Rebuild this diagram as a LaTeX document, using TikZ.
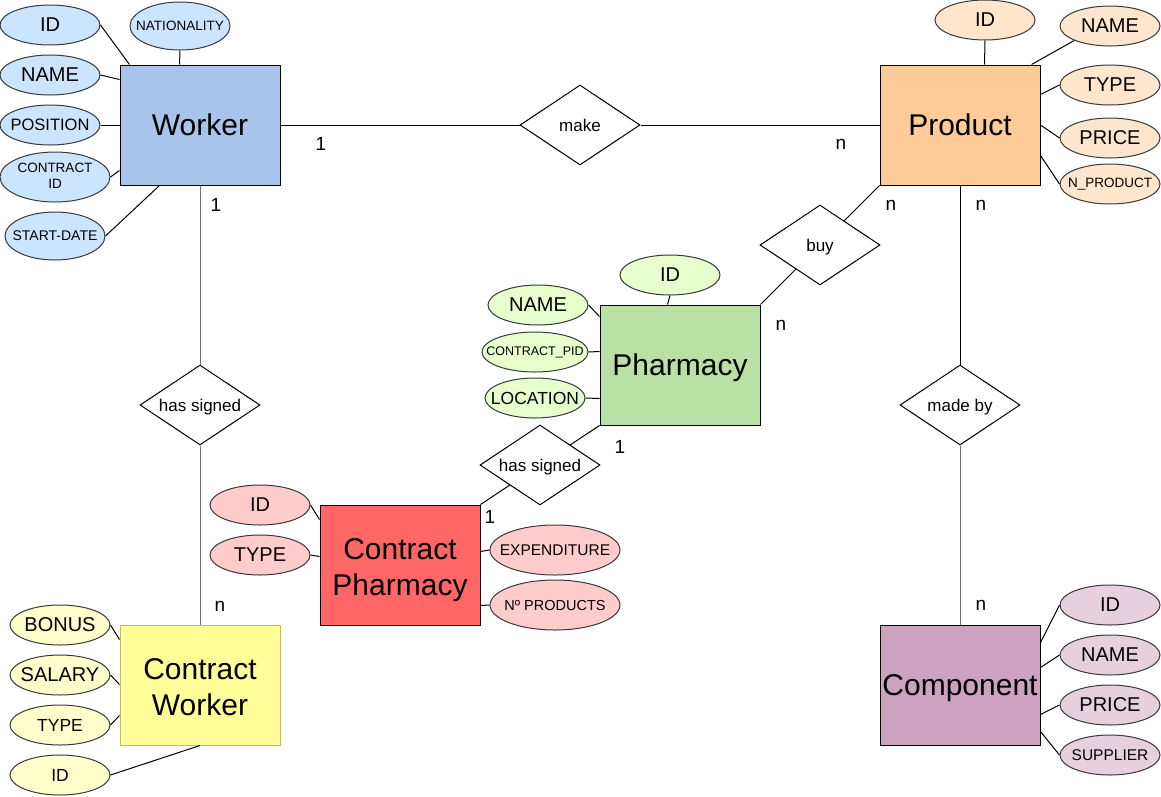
\documentclass[tikz,border=0pt]{standalone}
\usepackage{fontspec}
\setmainfont{Liberation Sans}
\usetikzlibrary{shapes.geometric}
\definecolor{workerFill}{HTML}{A9C4EB}
\definecolor{workerAttr}{HTML}{CCE5FF}
\definecolor{prodFill}{HTML}{FFCC99}
\definecolor{prodAttr}{HTML}{FFE6CC}
\definecolor{pharmFill}{HTML}{B9E0A5}
\definecolor{pharmAttr}{HTML}{E6FFCC}
\definecolor{cpFill}{HTML}{FF6666}
\definecolor{cpAttr}{HTML}{FFCCCC}
\definecolor{cwFill}{HTML}{FFFF99}
\definecolor{cwBorder}{HTML}{D6B656}
\definecolor{cwAttr}{HTML}{FFFFCC}
\definecolor{compFill}{HTML}{CDA2BE}
\definecolor{compAttr}{HTML}{E6D0DE}
\definecolor{attrLine}{HTML}{36393D}
\definecolor{connGray}{HTML}{707070}
\newcommand{\ctr}[1]{\makebox[0pt][c]{#1}}
\begin{document}
\begin{tikzpicture}[x=1pt,y=-1pt,line width=1pt,
  entity/.style={draw=black,minimum width=160pt,minimum height=120pt,inner sep=0pt,align=center,font=\fontsize{30}{36}\selectfont,text height=21.5pt,text depth=0pt},
  entitytwo/.style={draw=black,minimum width=160pt,minimum height=120pt,inner sep=0pt,font=\fontsize{30}{36}\selectfont,text height=52.5pt,text depth=28.5pt},
  attr/.style={ellipse,draw=attrLine,minimum width=100pt,minimum height=40pt,inner sep=0pt,font=\fontsize{20}{24}\selectfont},
  rel/.style={diamond,draw=black,shape aspect=1.5,minimum width=120pt,minimum height=80pt,inner sep=0pt,font=\fontsize{17}{20}\selectfont,text height=12.4pt,text depth=0pt},
  card/.style={inner sep=0pt,font=\fontsize{19}{22}\selectfont},
  conn/.style={draw=black},
  gconn/.style={draw=connGray},
  fs/.style={font=\fontsize{#1}{#1}\selectfont}]
\useasboundingbox (0,0) rectangle (1161,796);

% ---------- Worker ----------
\node[entity,fill=workerFill] (worker) at (200,125) {Worker};
\node[attr,fill=workerAttr] (wid) at (50,25) {\ctr{ID}};
\node[attr,fill=workerAttr,minimum height=48pt,fs=13.5] (wnat) at (180,26) {\ctr{NATIONALITY}};
\node[attr,fill=workerAttr] (wname) at (50,75) {\ctr{NAME}};
\node[attr,fill=workerAttr,fs=16.5] (wpos) at (50,125) {\ctr{POSITION}};
\node[attr,fill=workerAttr,minimum width=110pt,minimum height=50pt,font=\fontsize{13.5}{16}\selectfont] (wcid) at (55,177) {\ctr{\begin{tabular}{@{}c@{}}CONTRACT\\ID\end{tabular}}};
\node[attr,fill=workerAttr,minimum height=48pt,fs=14] (wsd) at (55,236) {\ctr{START-DATE}};

% ---------- Product ----------
\node[entity,fill=prodFill] (product) at (960,125) {Product};
\node[attr,fill=prodAttr] (pid) at (985,20) {\ctr{ID}};
\node[attr,fill=prodAttr] (pname) at (1110,26) {\ctr{NAME}};
\node[attr,fill=prodAttr] (ptype) at (1110,85) {\ctr{TYPE}};
\node[attr,fill=prodAttr] (pprice) at (1110,138) {\ctr{PRICE}};
\node[attr,fill=prodAttr,fs=13.5] (pnp) at (1110,184) {\ctr{N\_PRODUCT}};

% ---------- Pharmacy ----------
\node[entity,fill=pharmFill] (pharm) at (680,365) {Pharmacy};
\node[attr,fill=pharmAttr] (phid) at (670,275) {\ctr{ID}};
\node[attr,fill=pharmAttr] (phname) at (538,305) {\ctr{NAME}};
\node[attr,fill=pharmAttr,minimum width=106pt,fs=12.5] (phcp) at (535,352) {\ctr{CONTRACT\_PID}};
\node[attr,fill=pharmAttr,fs=17.5] (phloc) at (535,398) {\ctr{LOCATION}};

% ---------- Contract Pharmacy ----------
\node[entitytwo,fill=cpFill] (cp) at (400,565) {\begin{tabular}{@{}c@{}}Contract\\Pharmacy\end{tabular}};
\node[attr,fill=cpAttr] (cpid) at (260,505) {\ctr{ID}};
\node[attr,fill=cpAttr] (cptype) at (260,555) {\ctr{TYPE}};
\node[attr,fill=cpAttr,minimum width=130pt,minimum height=50pt,fs=15.5] (cpexp) at (555,550) {\ctr{EXPENDITURE}};
\node[attr,fill=cpAttr,minimum width=130pt,minimum height=50pt,fs=14.5] (cpnp) at (555,605) {\ctr{Nº PRODUCTS}};

% ---------- Contract Worker ----------
\node[entitytwo,fill=cwFill,draw=cwBorder] (cw) at (200,685) {\begin{tabular}{@{}c@{}}Contract\\Worker\end{tabular}};
\node[attr,fill=cwAttr] (cwb) at (60,625) {\ctr{BONUS}};
\node[attr,fill=cwAttr] (cws) at (60,675) {\ctr{SALARY}};
\node[attr,fill=cwAttr,fs=17.5] (cwt) at (60,725) {\ctr{TYPE}};
\node[attr,fill=cwAttr,fs=17.5] (cwid) at (60,775) {\ctr{ID}};

% ---------- Component ----------
\node[entity,fill=compFill] (comp) at (960,685) {Component};
\node[attr,fill=compAttr] (cid) at (1110,605) {\ctr{ID}};
\node[attr,fill=compAttr] (cname) at (1110,655) {\ctr{NAME}};
\node[attr,fill=compAttr] (cprice) at (1110,705) {\ctr{PRICE}};
\node[attr,fill=compAttr,fs=15.5] (csup) at (1110,755) {\ctr{SUPPLIER}};

% ---------- Relationships ----------
\node[rel] (make) at (580,125) {make};
\node[rel] (buy) at (820,245) {buy};
\node[rel] (madeby) at (960,405) {made by};
\node[rel] (hs1) at (200,405) {has signed};
\node[rel] (hs2) at (540,465) {has signed};

% ---------- Cardinalities ----------
\node[card] (c1) at (321,144) {1};
\node[card] (c2) at (841,144) {n};
\node[card] (c3) at (216,205) {1};
\node[card] (c4) at (891,205) {n};
\node[card] (c5) at (981,205) {n};
\node[card] (c6) at (781,325) {n};
\node[card] (c7) at (620,447) {1};
\node[card] (c8) at (490,517) {1};
\node[card] (c9) at (220,606) {n};
\node[card] (c10) at (981,605) {n};

% ---------- Attribute connectors ----------
\draw[conn] (wid.east) -- ([xshift=10pt]worker.north west);
\draw[conn] (wnat.south) -- ([xshift=60pt]worker.north west);
\draw[conn] (wname.east) -- ([yshift=-15pt]worker.north west);
\draw[conn] (wpos.east) -- (worker.west);
\draw[conn] (wcid.east) -- ([yshift=15pt]worker.south west);
\draw[conn] (wsd.east) -- ([xshift=40pt]worker.south west);

\draw[conn] (pid.south) -- ([xshift=105pt]product.north west);
\draw[conn] (pname.south west) -- ([xshift=-9pt]product.north east);
\draw[conn] (ptype.west) -- ([yshift=-30pt]product.north east);
\draw[conn] (pprice.west) -- (product.east);
\draw[conn] (pnp.west) -- ([yshift=30pt]product.south east);

\draw[conn] (phid.south) -- ([xshift=68pt]pharm.north west);
\draw[conn] (phname.east) -- ([yshift=-12pt]pharm.north west);
\draw[conn] (phcp.east) -- ([yshift=-47pt]pharm.north west);
\draw[conn] (phloc.east) -- ([yshift=27pt]pharm.south west);

\draw[conn] (cpid.east) -- ([yshift=-15pt]cp.north west);
\draw[conn] (cptype.east) -- ([yshift=-52pt]cp.north west);
\draw[conn] (cpexp.west) -- ([yshift=-47pt]cp.north east);
\draw[conn] (cpnp.west) -- ([yshift=20pt]cp.south east);

\draw[conn] (cwb.east) -- ([yshift=-15pt]cw.north west);
\draw[conn] (cws.east) -- ([yshift=-60pt]cw.north west);
\draw[conn] (cwt.east) -- ([yshift=30pt]cw.south west);
\draw[conn] (cwid.east) -- (cw.south);

\draw[conn] (cid.west) -- ([yshift=-18pt]comp.north east);
\draw[conn] (cname.west) -- ([yshift=-43pt]comp.north east);
\draw[conn] (cprice.west) -- ([yshift=-90pt]comp.north east);
\draw[conn] (csup.west) -- ([yshift=14pt]comp.south east);

% ---------- Relationship connectors ----------
\draw[conn] (worker.east) -- (make.west);
\draw[conn] (make.east) -- (product.west);
\draw[conn] (product.south west) -- (buy);
\draw[conn] (buy) -- (pharm.north east);
\draw[conn] (product.south) -- (madeby.north);
\draw[gconn] (madeby.south) -- (comp.north);
\draw[gconn] (worker.south) -- (hs1.north);
\draw[gconn] (hs1.south) -- (cw.north);
\draw[conn] (pharm.south west) -- (hs2);
\draw[conn] (hs2) -- (cp.north east);
\end{tikzpicture}
\end{document}
